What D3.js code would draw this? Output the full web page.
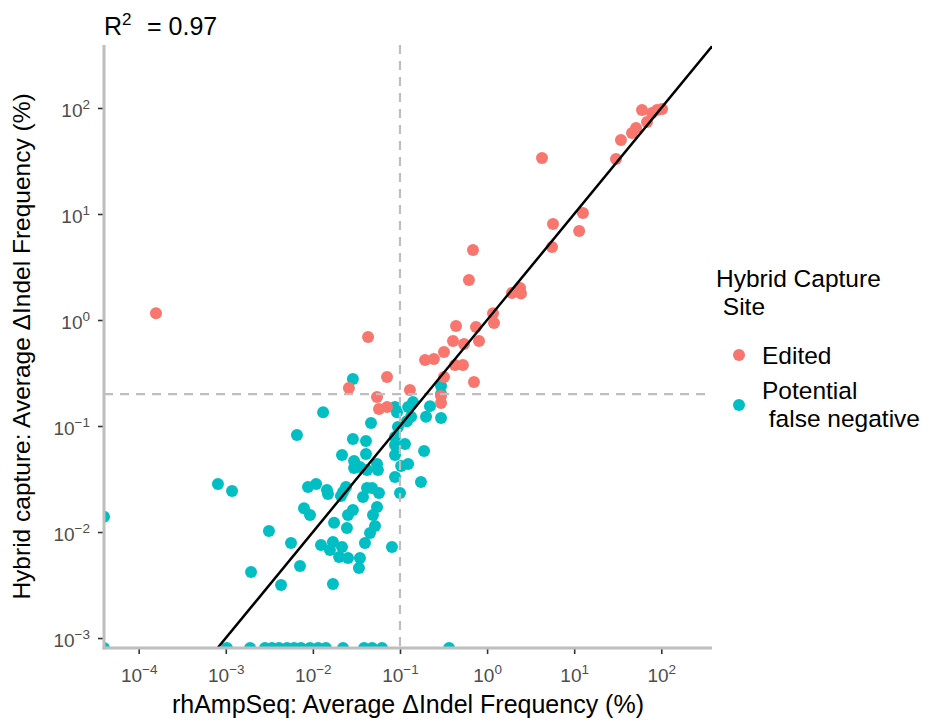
<!DOCTYPE html>
<html><head><meta charset="utf-8">
<script src="https://cdn.jsdelivr.net/npm/d3@7"></script>
<style>
body{margin:0;background:#fff}
svg{display:block}
text{font-family:"Liberation Sans",Arial,Helvetica,sans-serif}
</style>
</head><body>
<svg id="chart" width="930" height="722"></svg>
<script>
// ---- data (values in %, 0 = not detected -> drawn at the panel edge) ----
const editedX = [1.58e-4,0.043,0.0259,0.0710,0.0545,0.0574,0.0710,0.130,0.194,0.245,0.320,0.320,0.296,0.296,0.406,0.440,0.428,0.528,0.543,0.619,0.689,0.707,0.746,0.808,1.17,1.20,1.93,2.39,2.45,4.27,5.71,5.56,11.4,12.6,30.2,34.4,46.1,51.3,60.0,68.5,78.2,89.3,102];
const editedY = [1.16,0.692,0.228,0.290,0.188,0.145,0.151,0.219,0.420,0.429,0.499,0.290,0.192,0.165,0.634,0.877,0.376,0.376,0.594,2.38,4.57,0.260,0.859,0.634,1.16,0.937,1.80,2.00,1.78,33.7,8.05,4.89,6.92,10.2,33.0,49.9,58.1,64.7,95.7,73.8,89.7,95.7,98.0];

const fnX = [0,8.13e-4,1.18e-3,6.56e-3,0.0131,0.0288,3.13e-3,1.95e-3,4.31e-3,5.61e-3,7.11e-3,0.0170,7.91e-3,9.27e-3,8.79e-3,0.0109,0.0145,0.0149,0.0216,0.0288,0.0407,0.0465,0.0407,0.0297,0.0297,0.0347,0.0418,0.0545,0.0558,0.0240,0.0222,0.0210,0.0418,0.0478,0.0574,0.0376,0.0288,0.0545,0.0490,0.0253,0.0175,0.0246,0.0517,0.0453,0.0396,0.0809,0.0124,0.0170,0.0216,0.0157,0.0200,0.0253,0.0347,0.0338,0.0877,0.0877,0.0877,0.114,0.103,0.124,0.0877,0.100,0.174,0.189,0.0948,0.120,0.134,0.199,0.221,0.296,0.296,0.296,0.124,0.141,0.0877,0.0924,
  0,1.03e-3,1.90e-3,2.82e-3,3.39e-3,4.08e-3,5.05e-3,6.07e-3,7.30e-3,9.27e-3,0.0115,0.0141,0.0222,0.0387,0.0478,0.0621,0.366];
const fnY = [0.0139,0.0284,0.0244,0.0822,0.135,0.277,0.0102,4.20e-3,3.16e-3,7.87e-3,4.78e-3,3.23e-3,0.0168,0.0145,0.0266,0.0284,0.0249,0.0228,0.0532,0.0753,0.0722,0.107,0.0545,0.0467,0.0401,0.0410,0.0385,0.0439,0.0385,0.0266,0.0238,0.0219,0.0260,0.0260,0.0233,0.0214,0.0161,0.0172,0.0145,0.0145,0.0122,0.0109,0.0114,9.79e-3,7.87e-3,7.21e-3,7.54e-3,8.05e-3,7.21e-3,6.76e-3,5.81e-3,5.69e-3,5.69e-3,4.57e-3,0.0532,0.0662,0.0787,0.0676,0.0420,0.0439,0.0330,0.0233,0.0296,0.0581,0.0979,0.111,0.122,0.122,0.154,0.119,0.238,0.200,0.151,0.168,0.151,0.135,
  0,0,0,0,0,0,0,0,0,0,0,0,0,0,0,0,0];

const seriesNames = ["Edited", "Potential", " false negative"];
const seriesColors = ["#F8766D", "#00BFC4"];
const legendTitle = ["Hybrid Capture", " Site"];
const xTickValues = [1e-4,1e-3,1e-2,1e-1,1,10,100];
const yTickValues = [1e-3,1e-2,1e-1,1,10,100];
const xThreshold = 0.1, yThreshold = 0.2;
const fitSlope = 1.0, fitIntercept = 0.0;   // log10(y) = slope*log10(x) + intercept
const r2Text = "= 0.97";
const xTitle = "rhAmpSeq: Average \u0394Indel Frequency (%)";
const yTitle = "Hybrid capture: Average \u0394Indel Frequency (%)";

// ---- layout ----
const L = 104, R = 712, T = 45, B = 648;
const svg = d3.select("#chart");
const x = d3.scaleLog().domain([Math.pow(10,-4.398), Math.pow(10,2.582)]).range([L, R]);
const y = d3.scaleLog().domain([Math.pow(10,-3.094), Math.pow(10,2.594)]).range([B, T]);
const px = v => v > 0 ? x(v) : L;
const py = v => v > 0 ? y(v) : B;

svg.append("defs").append("clipPath").attr("id","panel")
  .append("rect").attr("x",L).attr("y",T).attr("width",R-L).attr("height",B-T);

const panel = svg.append("g").attr("clip-path","url(#panel)");

const pts = [];
fnX.forEach((v,i)=>pts.push({x:v,y:fnY[i],s:1}));
editedX.forEach((v,i)=>pts.push({x:v,y:editedY[i],s:0}));

panel.selectAll("circle.pt").data(pts).join("circle")
  .attr("class","pt")
  .attr("cx",d=>px(d.x)).attr("cy",d=>py(d.y)).attr("r",6)
  .attr("fill",d=>seriesColors[d.s]);

// threshold lines
panel.append("line").attr("x1",x(xThreshold)).attr("x2",x(xThreshold)).attr("y1",T).attr("y2",B)
  .attr("stroke","#bebebe").attr("stroke-width",2.2).attr("stroke-dasharray","9,7");
panel.append("line").attr("x1",L).attr("x2",R).attr("y1",y(yThreshold)).attr("y2",y(yThreshold))
  .attr("stroke","#bebebe").attr("stroke-width",2.2).attr("stroke-dasharray","9,7");

// fit line
const xd = x.domain();
const fitPts = xd.map(v => [v, Math.pow(10, fitSlope*Math.log10(v) + fitIntercept)]);
panel.append("path").attr("d", d3.line().x(d=>x(d[0])).y(d=>y(d[1]))(fitPts))
  .attr("stroke","#000").attr("stroke-width",2.5).attr("fill","none");

// axes
const supMinus = n => (n < 0 ? "\u2212" + (-n) : "" + n);
function styleAxis(g){
  g.select(".domain").remove();
  g.selectAll(".tick line").attr("stroke","#333").attr("stroke-width",1.6);
  g.selectAll(".tick text").attr("fill","#4d4d4d").attr("font-size",19).each(function(d){
    const t = d3.select(this); t.text(null);
    t.append("tspan").text("10");
    t.append("tspan").attr("font-size",13.5).attr("dy",-8).text(supMinus(Math.round(Math.log10(d))));
  });
}
const gx = svg.append("g").attr("transform",`translate(0,${B})`)
  .call(d3.axisBottom(x).tickValues(xTickValues).tickSize(6).tickSizeOuter(0).tickPadding(8));
styleAxis(gx);
gx.selectAll(".tick text").attr("dy","1.05em");
const gy = svg.append("g").attr("transform",`translate(${L},0)`)
  .call(d3.axisLeft(y).tickValues(yTickValues).tickSize(6).tickSizeOuter(0).tickPadding(8));
styleAxis(gy);
gy.selectAll(".tick text").attr("dy","0.45em");

// axis lines (gray)
svg.append("line").attr("x1",L).attr("x2",L).attr("y1",T).attr("y2",B+1.5).attr("stroke","#bebebe").attr("stroke-width",3);
svg.append("line").attr("x1",L-1.5).attr("x2",R).attr("y1",B).attr("y2",B).attr("stroke","#bebebe").attr("stroke-width",3);

// titles
svg.append("text").attr("x",(L+R)/2).attr("y",713).attr("text-anchor","middle")
  .attr("font-size",25).attr("fill","#000").text(xTitle);
svg.append("text").attr("transform",`translate(30,${(T+B)/2}) rotate(-90)`).attr("text-anchor","middle")
  .attr("font-size",24.5).attr("fill","#000").text(yTitle);

const r2 = svg.append("text").attr("x",104).attr("y",35).attr("font-size",25).attr("fill","#000");
r2.append("tspan").text("R");
r2.append("tspan").attr("font-size",17).attr("dy",-10).text("2");
r2.append("tspan").attr("x",147).attr("dy",10).text(r2Text);

// legend
const lg = svg.append("g");
lg.append("text").attr("x",716).attr("y",287).attr("font-size",24.5).text(legendTitle[0]);
lg.append("text").attr("x",716).attr("y",315).attr("font-size",24.5).style("white-space","pre").text(legendTitle[1]);
lg.append("circle").attr("cx",739).attr("cy",355).attr("r",6).attr("fill",seriesColors[0]);
lg.append("text").attr("x",762).attr("y",364).attr("font-size",24.5).text(seriesNames[0]);
lg.append("circle").attr("cx",739).attr("cy",405).attr("r",6).attr("fill",seriesColors[1]);
lg.append("text").attr("x",762).attr("y",399).attr("font-size",24.5).text(seriesNames[1]);
lg.append("text").attr("x",762).attr("y",427).attr("font-size",24.5).style("white-space","pre").text(seriesNames[2]);
</script>
</body></html>
